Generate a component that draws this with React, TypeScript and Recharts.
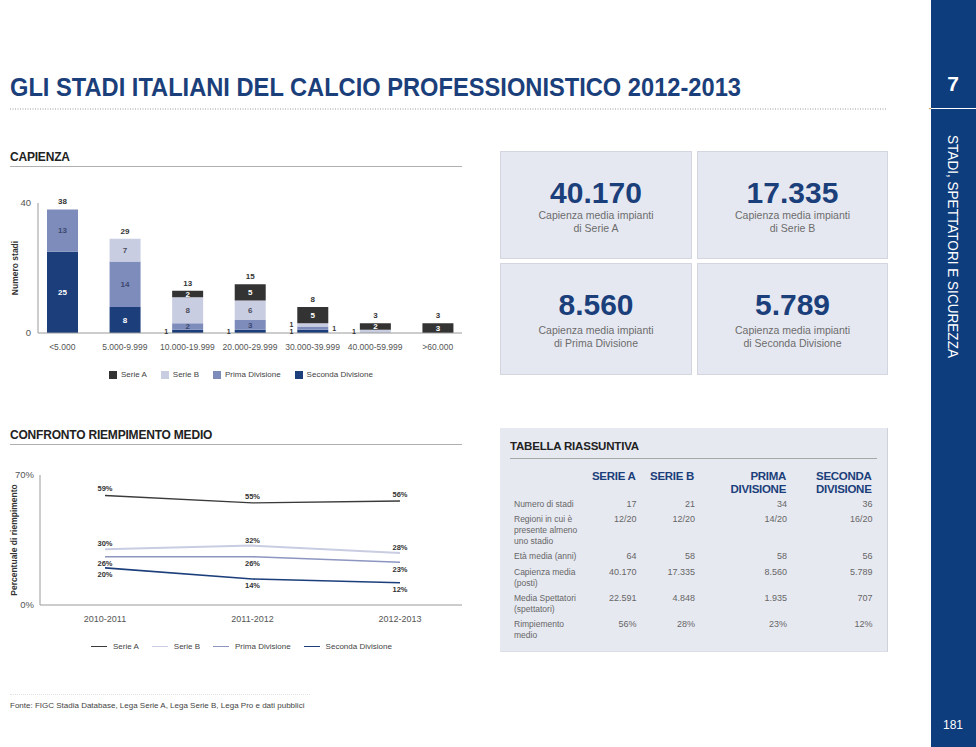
import React from "react";
import { Bar, BarChart, LabelList, Legend, Line, LineChart, XAxis, YAxis } from "recharts";

// capienza: numero stadi per fascia
const capacityBands = ["<5.000", "5.000-9.999", "10.000-19.999", "20.000-29.999", "30.000-39.999", "40.000-59.999", ">60.000"];
const serieAStadi = [0, 0, 2, 5, 5, 2, 3];
const serieBStadi = [0, 7, 8, 6, 1, 1, 0];
const primaStadi = [13, 14, 2, 3, 1, 0, 0];
const secondaStadi = [25, 8, 1, 1, 1, 0, 0];
const capacityTicks = [0, 40];

// riempimento medio (%)
const seasons = ["2010-2011", "2011-2012", "2012-2013"];
const serieAFill = [59, 55, 56];
const serieBFill = [30, 32, 28];
const primaFill = [26, 26, 23];
const secondaFill = [20, 14, 12];
const fillTicks = [0, 70];

// box capienza media
const statValues = ["40.170", "17.335", "8.560", "5.789"];
const statLeagues = ["di Serie A", "di Serie B", "di Prima Divisione", "di Seconda Divisione"];

// tabella riassuntiva
const tableHeaders = [["SERIE A"], ["SERIE B"], ["PRIMA", "DIVISIONE"], ["SECONDA", "DIVISIONE"]];
const tableRowLabels = [
  ["Numero di stadi"],
  ["Regioni in cui è", "presente almeno", "uno stadio"],
  ["Età media (anni)"],
  ["Capienza media", "(posti)"],
  ["Media Spettatori", "(spettatori)"],
  ["Rimpiemento", "medio"],
];
const tableSerieA = ["17", "12/20", "64", "40.170", "22.591", "56%"];
const tableSerieB = ["21", "12/20", "58", "17.335", "4.848", "28%"];
const tablePrima = ["34", "14/20", "58", "8.560", "1.935", "23%"];
const tableSeconda = ["36", "16/20", "56", "5.789", "707", "12%"];

const FONT = '"Liberation Sans", Arial, Helvetica, sans-serif';
const NAVY = "#1b3f7a";
const C_A = "#333333";
const C_B = "#c9cde2";
const C_PRIMA = "#7e8cbb";
const C_SECONDA = "#1c3f7c";

const legendNames = ["Serie A", "Serie B", "Prima Divisione", "Seconda Divisione"];
const barColors = [C_A, C_B, C_PRIMA, C_SECONDA];
const lineColors = ["#3a3a3a", "#c9cde2", "#8c96c0", C_SECONDA];

type CapRow = { band: string; serieA: number; serieB: number; prima: number; seconda: number; total: number };
type StackKey = "seconda" | "prima" | "serieB" | "serieA";

const capacityData: CapRow[] = capacityBands.map((band, i) => ({
  band,
  serieA: serieAStadi[i],
  serieB: serieBStadi[i],
  prima: primaStadi[i],
  seconda: secondaStadi[i],
  total: serieAStadi[i] + serieBStadi[i] + primaStadi[i] + secondaStadi[i],
}));

const stackOrder: StackKey[] = ["seconda", "prima", "serieB", "serieA"];

const fillData = seasons.map((season, i) => ({
  season,
  serieA: serieAFill[i],
  serieB: serieBFill[i],
  prima: primaFill[i],
  seconda: secondaFill[i],
}));

// la LabelList riceve l'intera riga, così ogni etichetta sa a che fascia appartiene
const rowAccessor = (entry: any) => entry?.payload ?? entry;

// label dentro il segmento; i segmenti da 1 hanno l'etichetta di lato,
// il segmento più alto porta anche il totale sopra la colonna
function segmentLabel(key: StackKey, textColor: string, smallSide: "left" | "right") {
  return (props: any) => {
    const row = props.value as CapRow | undefined;
    if (!row || typeof row !== "object") return null;
    const value = row[key];
    if (!value) return null;
    const x = Number(props.x);
    const y = Number(props.y);
    const width = Number(props.width);
    const height = Number(props.height);
    const above = stackOrder.slice(stackOrder.indexOf(key) + 1);
    const isTop = above.every((k) => !row[k]);
    const cy = y + height / 2;
    const left = smallSide === "left";
    return (
      <g>
        {value === 1 ? (
          <text
            x={left ? x - 4 : x + width + 4}
            y={cy}
            dy="0.35em"
            textAnchor={left ? "end" : "start"}
            fontSize={7}
            fontWeight={700}
            fill="#333"
            fontFamily={FONT}
          >
            {value}
          </text>
        ) : (
          <text x={x + width / 2} y={cy} dy="0.35em" textAnchor="middle" fontSize={8} fontWeight={700} fill={textColor} fontFamily={FONT}>
            {value}
          </text>
        )}
        {isTop ? (
          <text x={x + width / 2} y={y - 8} dy="0.35em" textAnchor="middle" fontSize={8} fontWeight={700} fill="#333" fontFamily={FONT}>
            {row.total}
          </text>
        ) : null}
      </g>
    );
  };
}

function BarLegend() {
  return (
    <div style={{ display: "flex", alignItems: "center", fontSize: 8, color: "#444", fontFamily: FONT }}>
      {legendNames.map((name, i) => (
        <span key={name} style={{ display: "flex", alignItems: "center", marginRight: 14 }}>
          <span style={{ width: 8, height: 8, background: barColors[i], marginRight: 4, display: "inline-block" }} />
          {name}
        </span>
      ))}
    </div>
  );
}

function LineLegend() {
  return (
    <div style={{ display: "flex", alignItems: "center", fontSize: 8, color: "#444", fontFamily: FONT }}>
      {legendNames.map((name, i) => (
        <span key={name} style={{ display: "flex", alignItems: "center", marginRight: 13 }}>
          <span style={{ width: 16, height: 1.5, background: lineColors[i], marginRight: 6, display: "inline-block" }} />
          {name}
        </span>
      ))}
    </div>
  );
}

const axisStroke = { stroke: "#9a9a9a" };

function CapacityChart() {
  return (
    <BarChart width={480} height={205} data={capacityData} margin={{ top: 18, right: 18, bottom: 37, left: 0 }} barSize={31}>
      <XAxis
        dataKey="band"
        height={20}
        interval={0}
        tickLine={false}
        tickSize={0}
        tickMargin={11}
        axisLine={axisStroke}
        padding={{ left: -7, right: -7 }}
        tick={{ fontSize: 8.5, fill: "#555", fontFamily: FONT }}
      />
      <YAxis
        width={38}
        domain={[0, 40]}
        ticks={capacityTicks}
        tickLine={false}
        tickSize={0}
        tickMargin={7}
        axisLine={axisStroke}
        tick={{ fontSize: 9.5, fill: "#555", fontFamily: FONT }}
        label={{ value: "Numero stadi", angle: -90, position: "center", dx: -4, fontSize: 8.5, fontWeight: 700, fill: "#333", fontFamily: FONT }}
      />
      <Legend
        layout="horizontal"
        verticalAlign="middle"
        align="center"
        content={() => <BarLegend />}
        wrapperStyle={{ top: 185, left: 109, width: "auto" }}
      />
      <Bar dataKey="seconda" stackId="s" fill={C_SECONDA} isAnimationActive={false}>
        <LabelList valueAccessor={rowAccessor} content={segmentLabel("seconda", "#ffffff", "left")} />
      </Bar>
      <Bar dataKey="prima" stackId="s" fill={C_PRIMA} isAnimationActive={false}>
        <LabelList valueAccessor={rowAccessor} content={segmentLabel("prima", "#3d4870", "right")} />
      </Bar>
      <Bar dataKey="serieB" stackId="s" fill={C_B} isAnimationActive={false}>
        <LabelList valueAccessor={rowAccessor} content={segmentLabel("serieB", "#4a4c5c", "left")} />
      </Bar>
      <Bar dataKey="serieA" stackId="s" fill={C_A} isAnimationActive={false}>
        <LabelList valueAccessor={rowAccessor} content={segmentLabel("serieA", "#ffffff", "left")} />
      </Bar>
    </BarChart>
  );
}

const pct = (v: any) => `${v}%`;
const lineLabelStyle = { fontSize: 7.5, fontWeight: 700, fill: "#333", fontFamily: FONT };

function FillChart() {
  return (
    <LineChart width={480} height={205} data={fillData} margin={{ top: 15, right: 18, bottom: 40, left: 0 }}>
      <XAxis
        dataKey="season"
        height={20}
        interval={0}
        tickLine={false}
        tickSize={0}
        tickMargin={11}
        axisLine={axisStroke}
        padding={{ left: 65, right: 62 }}
        tick={{ fontSize: 9, fill: "#555", fontFamily: FONT }}
      />
      <YAxis
        width={40}
        domain={[0, 70]}
        ticks={fillTicks}
        tickFormatter={pct}
        tickLine={false}
        tickSize={0}
        tickMargin={6}
        axisLine={axisStroke}
        tick={{ fontSize: 9.5, fill: "#555", fontFamily: FONT }}
        label={{ value: "Percentuale di riempimento", angle: -90, position: "center", dx: -6, fontSize: 8.5, fontWeight: 700, fill: "#333", fontFamily: FONT }}
      />
      <Legend
        layout="horizontal"
        verticalAlign="middle"
        align="center"
        content={() => <LineLegend />}
        wrapperStyle={{ top: 182, left: 91, width: "auto" }}
      />
      <Line type="linear" dataKey="serieA" stroke={lineColors[0]} strokeWidth={1.4} dot={false} isAnimationActive={false}>
        <LabelList dataKey="serieA" position="top" offset={4} formatter={pct} {...lineLabelStyle} />
      </Line>
      <Line type="linear" dataKey="serieB" stroke={lineColors[1]} strokeWidth={2} dot={false} isAnimationActive={false}>
        <LabelList dataKey="serieB" position="top" offset={3} formatter={pct} {...lineLabelStyle} />
      </Line>
      <Line type="linear" dataKey="prima" stroke={lineColors[2]} strokeWidth={1.6} dot={false} isAnimationActive={false}>
        <LabelList dataKey="prima" position="bottom" offset={4} formatter={pct} {...lineLabelStyle} />
      </Line>
      <Line type="linear" dataKey="seconda" stroke={lineColors[3]} strokeWidth={1.6} dot={false} isAnimationActive={false}>
        <LabelList dataKey="seconda" position="bottom" offset={4} formatter={pct} {...lineLabelStyle} />
      </Line>
    </LineChart>
  );
}

function SectionTitle({ text, top }: { text: string; top: number }) {
  return (
    <>
      <div style={{ position: "absolute", left: 10, top, fontSize: 12, fontWeight: 700, letterSpacing: -0.2, color: "#222", lineHeight: "14px" }}>
        {text}
      </div>
      <div style={{ position: "absolute", left: 10, top: top + 16, width: 452, height: 1, background: "#b0b0b0" }} />
    </>
  );
}

const statBoxes = [
  { left: 500, top: 151, width: 192, height: 108 },
  { left: 697, top: 151, width: 191, height: 108 },
  { left: 500, top: 263, width: 192, height: 112 },
  { left: 697, top: 263, width: 191, height: 112 },
];

function StatBox({ index }: { index: number }) {
  const b = statBoxes[index];
  return (
    <div
      style={{
        position: "absolute",
        left: b.left,
        top: b.top,
        width: b.width,
        height: b.height,
        boxSizing: "border-box",
        background: "#e6e8f1",
        border: "1px solid #d3d5df",
        textAlign: "center",
      }}
    >
      <div style={{ position: "absolute", left: 0, right: 0, top: 26, fontSize: 30, lineHeight: "30px", fontWeight: 700, color: NAVY }}>
        {statValues[index]}
      </div>
      <div style={{ position: "absolute", left: 0, right: 0, top: index < 2 ? 57 : 60, fontSize: 10.5, lineHeight: "13px", color: "#6c6c6c" }}>
        Capienza media impianti
        <br />
        {statLeagues[index]}
      </div>
    </div>
  );
}

const colRight = [136.5, 195, 287, 372.5];
const tableCols = [tableSerieA, tableSerieB, tablePrima, tableSeconda];

function SummaryTable() {
  return (
    <div
      style={{
        position: "absolute",
        left: 500,
        top: 428,
        width: 388,
        height: 224,
        boxSizing: "border-box",
        background: "#e7e9f1",
        borderRight: "1px solid #cfd1db",
        borderBottom: "1px solid #dcdee6",
      }}
    >
      <div style={{ position: "absolute", left: 10, top: 11, fontSize: 11.5, fontWeight: 700, letterSpacing: -0.2, color: "#222", lineHeight: "14px" }}>
        TABELLA RIASSUNTIVA
      </div>
      <div style={{ position: "absolute", left: 10, top: 30, width: 367, height: 1, background: "#a8a8a8" }} />
      {tableHeaders.map((lines, c) => (
        <div
          key={c}
          style={{
            position: "absolute",
            right: 388 - colRight[c],
            top: 41.5,
            textAlign: "right",
            whiteSpace: "nowrap",
            fontSize: 11.5,
            fontWeight: 700,
            letterSpacing: -0.3,
            lineHeight: "13px",
            color: NAVY,
          }}
        >
          {lines.map((l, k) => (
            <div key={k}>{l}</div>
          ))}
        </div>
      ))}
      <div style={{ position: "absolute", left: 0, top: 70.5, width: 388 }}>
        {tableRowLabels.map((lines, r) => (
          <div key={r} style={{ position: "relative", height: lines.length * 11 + 4.4, fontSize: 8.5, lineHeight: "11px", color: "#666" }}>
            <div style={{ position: "absolute", left: 14, top: 0, whiteSpace: "nowrap" }}>
              {lines.map((l, k) => (
                <div key={k}>{l}</div>
              ))}
            </div>
            {tableCols.map((col, c) => (
              <div key={c} style={{ position: "absolute", right: 388 - colRight[c], top: 0, fontSize: 9, whiteSpace: "nowrap" }}>
                {col[r]}
              </div>
            ))}
          </div>
        ))}
      </div>
    </div>
  );
}

export default function App() {
  return (
    <div style={{ position: "absolute", left: 0, top: 0, width: 976, height: 747, overflow: "hidden", background: "#fff", fontFamily: FONT }}>
      <svg width={900} height={120} style={{ position: "absolute", left: 0, top: 0 }}>
        <text x={10} y={96} fontSize={26} fontWeight={700} fill={NAVY} fontFamily={FONT} textLength={731} lengthAdjust="spacingAndGlyphs">
          GLI STADI ITALIANI DEL CALCIO PROFESSIONISTICO 2012-2013
        </text>
        <line x1={10} y1={109} x2={887} y2={109} stroke="#9a9a9a" strokeWidth={1} strokeDasharray="1 1.5" />
      </svg>

      {/* fascia laterale */}
      <div style={{ position: "absolute", left: 931, top: 0, width: 45, height: 747, background: "#0e3d7d" }} />
      <svg width={48} height={747} style={{ position: "absolute", left: 928, top: 0 }}>
        <text x={25} y={91} textAnchor="middle" fontSize={21} fontWeight={700} fill="#fff" fontFamily={FONT}>
          7
        </text>
        <line x1={3} y1={108.5} x2={48} y2={108.5} stroke="#fff" strokeWidth={1} />
        <rect x={1} y={108} width={2} height={1.2} fill="#e0a060" />
        <text
          transform="translate(20,135) rotate(90)"
          fontSize={14}
          fill="#fff"
          fontFamily={FONT}
          textLength={223}
          lengthAdjust="spacingAndGlyphs"
        >
          STADI, SPETTATORI E SICUREZZA
        </text>
        <text x={25} y={729} textAnchor="middle" fontSize={12} fill="#fff" fontFamily={FONT}>
          181
        </text>
      </svg>

      <SectionTitle text="CAPIENZA" top={150} />
      <div style={{ position: "absolute", left: 0, top: 185 }}>
        <CapacityChart />
      </div>

      <SectionTitle text="CONFRONTO RIEMPIMENTO MEDIO" top={428} />
      <div style={{ position: "absolute", left: 0, top: 460 }}>
        <FillChart />
      </div>

      {statBoxes.map((_, i) => (
        <StatBox key={i} index={i} />
      ))}
      <SummaryTable />

      <div style={{ position: "absolute", left: 10, top: 694, width: 300, borderTop: "1px dotted #e2e2e2" }} />
      <div style={{ position: "absolute", left: 10, top: 701, fontSize: 8, lineHeight: "10px", color: "#444", whiteSpace: "nowrap" }}>
        Fonte: FIGC Stadia Database, Lega Serie A, Lega Serie B, Lega Pro e dati pubblici
      </div>
    </div>
  );
}
